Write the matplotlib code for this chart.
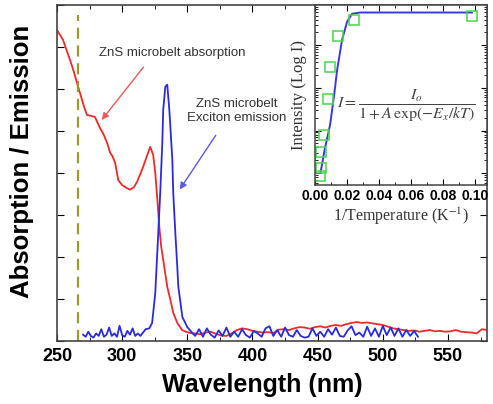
import numpy as np
import matplotlib
matplotlib.use('Agg')
import matplotlib.pyplot as plt

plt.rcParams['font.family'] = ['Liberation Sans', 'DejaVu Sans']
plt.rcParams['mathtext.fontset'] = 'stix'

# absorption (red)
abs_nm = [250, 252, 254.6, 257, 260, 263, 266.2, 269.2, 271, 273, 276, 279.2, 281, 283, 286, 288.5,
          290.8, 292.5, 294.6, 297, 300, 303, 306, 309, 311.5, 314, 316, 319, 321.5, 323.8, 325.4,
          327, 328.5, 330, 331.5, 333, 334.6, 337, 339.2, 342.3, 346, 349]
abs_val = [7.40, 7.30, 7.17, 6.95, 6.69, 6.40, 6.05, 5.74, 5.55, 5.38, 5.36, 5.33, 5.20, 5.07, 4.90, 4.71,
           4.48, 4.40, 4.24, 3.83, 3.71, 3.65, 3.60, 3.66, 3.79, 3.98, 4.14, 4.40, 4.62, 4.43, 4.00,
           3.36, 2.71, 2.24, 1.93, 1.62, 1.29, 0.98, 0.67, 0.43, 0.26, 0.22]
abs_base_nm = np.arange(352, 582, 4)
abs_base = [0.19, 0.18, 0.16, 0.20, 0.22, 0.17, 0.13, 0.12, 0.18, 0.26, 0.30, 0.28, 0.24, 0.22, 0.20,
            0.21, 0.19, 0.27, 0.28, 0.26, 0.30, 0.33, 0.32, 0.29, 0.33, 0.35, 0.32, 0.36, 0.38, 0.36,
            0.40, 0.43, 0.45, 0.43, 0.44, 0.42, 0.40, 0.38, 0.34, 0.30, 0.28, 0.26, 0.24, 0.25, 0.22,
            0.24, 0.26, 0.23, 0.24, 0.22, 0.23, 0.26, 0.22, 0.21, 0.20, 0.18, 0.28, 0.26][:len(abs_base_nm)]

# emission (blue)
em_left_nm = np.arange(270, 319, 2)
em_left = [0.15, 0.10, 0.22, 0.12, 0.08, 0.18, 0.12, 0.28, 0.10, 0.15, 0.32, 0.12, 0.18, 0.10, 0.36,
           0.14, 0.10, 0.24, 0.15, 0.30, 0.12, 0.18, 0.12, 0.20, 0.28][:len(em_left_nm)]
em_peak_nm = [320.8, 323, 325.4, 327.7, 329.2, 330.8, 331.5, 333.1, 334.6, 336.2, 338.5, 339.2, 340.8,
              342.3, 343.1, 346.2, 350, 353.8]
em_peak = [0.30, 0.43, 1.14, 2.57, 3.52, 4.71, 5.50, 6.05, 6.10, 5.50, 4.31, 3.52, 2.57,
           1.76, 1.29, 0.57, 0.33, 0.19]
em_base_nm = np.arange(356, 528, 3)
em_base = [0.12, 0.28, 0.10, 0.30, 0.15, 0.08, 0.25, 0.12, 0.32, 0.10, 0.22, 0.10, 0.28, 0.14, 0.08,
           0.24, 0.18, 0.10, 0.30, 0.35, 0.12, 0.26, 0.10, 0.32, 0.14, 0.10, 0.26, 0.12, 0.08, 0.10,
           0.30, 0.12, 0.22, 0.10, 0.28, 0.15, 0.32, 0.12, 0.10, 0.25, 0.35, 0.14, 0.20, 0.10, 0.34,
           0.12, 0.30, 0.10, 0.36, 0.14, 0.32, 0.12, 0.30, 0.10, 0.26, 0.12, 0.24, 0.10][:len(em_base_nm)]

# inset: intensity vs 1/T
invT = [0.0033, 0.0035, 0.0040, 0.0056, 0.0080, 0.0094, 0.0144, 0.0244, 0.0980]
logI = [-0.07, 0.12, 0.49, 0.89, 1.74, 2.49, 3.22, 3.60, 3.69]
fit_x = [0.0035, 0.0060, 0.0094, 0.0120, 0.0138, 0.0169, 0.0200, 0.0231, 0.0281, 0.0600, 0.0980]
fit_logI = [0.02, 0.55, 1.13, 1.85, 2.42, 3.13, 3.55, 3.74, 3.77, 3.77, 3.77]

fig = plt.figure(figsize=(4.93, 4.04), dpi=100)
ax = fig.add_axes([0.1156, 0.156, 0.8724, 0.832])

red = '#ee2a2a'
blue = '#2a2ae6'
ax.plot(np.concatenate([abs_nm, abs_base_nm]), np.concatenate([abs_val, abs_base]), color=red, lw=1.3)
ax.plot(np.concatenate([em_left_nm, em_peak_nm, em_base_nm]),
        np.concatenate([em_left, em_peak, em_base]), color=blue, lw=1.3)
ax.axvline(266, ymin=0, ymax=0.97, color='#9a9a30', lw=1.6, ls=(0, (5, 3)))

ax.set_xlim(250, 580)
ax.set_ylim(0, 8)
ax.set_xticks(np.arange(250, 551, 50))
ax.set_xticks(np.arange(275, 580, 25), minor=True)
ax.set_yticks(np.arange(0, 9, 1))
ax.set_yticklabels([])
ax.tick_params(which='both', direction='in', top=True, right=True, labelsize=13, pad=5)
ax.tick_params(which='major', length=5)
ax.tick_params(which='minor', length=3)
for lab in ax.get_xticklabels():
    lab.set_fontweight('bold')
for s in ax.spines.values():
    s.set_linewidth(1.2)
    s.set_color('#444444')
ax.set_xlabel('Wavelength (nm)', fontsize=18, fontweight='bold', labelpad=2)
ax.xaxis.set_label_coords(0.478, -0.095)
ax.set_ylabel('Absorption / Emission', fontsize=18.5, fontweight='bold')
ax.yaxis.set_label_coords(-0.053, 0.533)

ax.text(338.5, 6.86, 'ZnS microbelt absorption', fontsize=9.5, color='#333333', ha='center', va='center')
ax.annotate('', xy=(283, 5.21), xytext=(317.7, 6.57),
            arrowprops=dict(arrowstyle='-|>', color='#f05858', lw=1.0, mutation_scale=10))
ax.text(387.7, 5.48, 'ZnS microbelt\nExciton emission', fontsize=9.5, color='#333333',
        ha='center', va='center', linespacing=1.2)
ax.annotate('', xy=(343, 3.55), xytext=(373, 4.95),
            arrowprops=dict(arrowstyle='-|>', color='#5a5ae6', lw=1.0, mutation_scale=10))

# inset
ins = fig.add_axes([0.639, 0.542, 0.349, 0.446])
ins.plot(fit_x, [10 ** v for v in fit_logI], color='#3a3ae0', lw=1.4)
ins.plot(invT, [10 ** v for v in logI], ls='none', marker='s', ms=7.5, mfc='none',
         mec='#4cd44c', mew=1.1)
ins.set_yscale('log')
ins.set_xlim(0, 0.1075)
ins.set_ylim(10 ** -0.28, 10 ** 3.95)
ins.set_xticks(np.arange(0, 0.101, 0.02))
ins.set_xticks(np.arange(0.01, 0.105, 0.02), minor=True)
ins.set_xticklabels(['0.00', '0.02', '0.04', '0.06', '0.08', '0.10'])
ins.tick_params(which='both', direction='in', top=True, right=True, labelsize=10, pad=3)
ins.tick_params(which='major', length=4)
ins.tick_params(which='minor', length=2)
ins.tick_params(axis='y', labelleft=False)
for lab in ins.get_xticklabels():
    lab.set_fontweight('bold')
for s in ins.spines.values():
    s.set_linewidth(1.1)
    s.set_color('#444444')
ins.set_xlabel('1/Temperature (K$^{-1}$)', fontsize=11.5, family='Liberation Serif',
               color='#333333', labelpad=2)
ins.set_ylabel('Intensity (Log I)', fontsize=12, family='Liberation Serif', color='#333333', labelpad=3)
ins.text(0.53, 0.44, r'$I=\dfrac{I_o}{1+A\,\exp(-E_x/kT)}$', transform=ins.transAxes,
         fontsize=11.5, color='#444444', ha='center', va='center')

fig.savefig('out.png', dpi=100)
